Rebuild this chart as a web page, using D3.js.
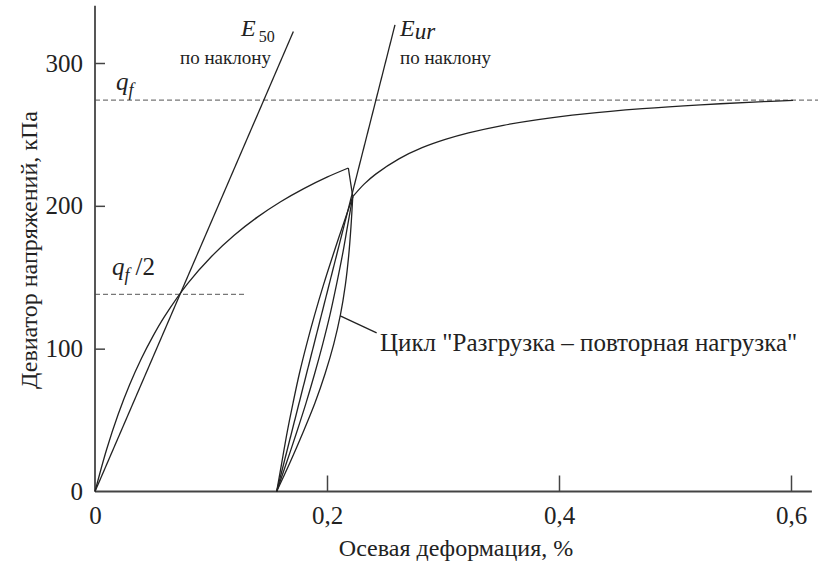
<!DOCTYPE html>
<html><head><meta charset="utf-8">
<script src="https://cdn.jsdelivr.net/npm/d3@7"></script>
</head><body style="margin:0;background:#fff">
<svg id="c" width="818" height="564" font-family="Liberation Serif" style="display:block"></svg>
<script>
// ---- data ----
const xTicks = [0, 0.2, 0.4, 0.6];
const yTicks = [0, 100, 200, 300];
const qf = 274;
const qfHalf = 138;
// primary loading curve
const primaryStrain = [0, 0.01, 0.02, 0.03, 0.04, 0.05, 0.06, 0.08, 0.10, 0.12, 0.14, 0.16, 0.18, 0.20, 0.2184];
const primaryStress = [0, 29.4, 54.1, 75.1, 93.1, 108.8, 122.6, 145.7, 164.2, 179.4, 192.1, 202.9, 212.1, 220.1, 226.5];
// drop from peak to cycle top
const dropStrain = [0.2184, 0.2222];
const dropStress = [226.5, 206.4];
// continued loading after the cycle
const contStrain = [0.2222, 0.232, 0.242, 0.262, 0.282, 0.302, 0.322, 0.352, 0.382, 0.422, 0.472, 0.522, 0.572, 0.6017];
const contStress = [206.4, 215.2, 222.2, 232.9, 240.7, 246.5, 251.1, 256.4, 260.4, 264.4, 268.0, 270.7, 272.8, 273.8];
// unloading / reloading cycle branches
const loopStress = [0, 20.6, 41.3, 61.9, 82.6, 103.2, 123.8, 144.5, 165.1, 185.8, 206.4];
const loopLeftStrain = [0.1566, 0.1611, 0.1656, 0.1707, 0.1762, 0.1825, 0.1894, 0.1969, 0.2050, 0.2135, 0.2222];
const loopInnerStrain = [0.1566, 0.1653, 0.1738, 0.1819, 0.1894, 0.1963, 0.2026, 0.2081, 0.2132, 0.2177, 0.2222];
const loopOuterStrain = [0.1566, 0.1683, 0.1793, 0.1896, 0.1984, 0.2058, 0.2116, 0.2158, 0.2187, 0.2207, 0.2222];
// tangent lines
const e50Strain = [0, 0.171];
const e50Stress = [0, 322];
const eurStrain = [0.1566, 0.2586];
const eurStress = [0, 326.7];
// leader line of the cycle annotation
const leaderStrain = [0.2114, 0.2428];
const leaderStress = [123, 111];

// ---- chart ----
const FONT = "Liberation Serif";
const svg = d3.select("#c");
const x = d3.scaleLinear().domain([0, 0.6]).range([95, 791]);
const y = d3.scaleLinear().domain([0, 300]).range([491.5, 63]);
const xEnd = 0.618, yEnd = 340;
const fmt = d => d === 0 ? "0" : d3.format(".1f")(d).replace(".", ",");
const zip = (a, b) => a.map((v, i) => [v, b[i]]);
const line = d3.line().x(d => x(d[0])).y(d => y(d[1]));
const smooth = d3.line().x(d => x(d[0])).y(d => y(d[1])).curve(d3.curveCatmullRom.alpha(0.5));

// dashed lines
svg.append("line").attr("x1", x(0)).attr("x2", 818).attr("y1", y(qf)).attr("y2", y(qf))
  .attr("stroke", "#777").attr("stroke-width", 1.3).attr("stroke-dasharray", "5,3");
svg.append("line").attr("x1", x(0)).attr("x2", x(0.131)).attr("y1", y(qfHalf)).attr("y2", y(qfHalf))
  .attr("stroke", "#777").attr("stroke-width", 1.3).attr("stroke-dasharray", "5,3");

// axes
const ax = svg.append("g").attr("transform", `translate(0,${y(0)})`)
  .call(d3.axisBottom(x).tickValues(xTicks).tickSize(-16).tickPadding(27).tickFormat(fmt));
const ay = svg.append("g").attr("transform", `translate(${x(0)},0)`)
  .call(d3.axisLeft(y).tickValues(yTicks).tickSize(-10).tickPadding(12).tickFormat(d => d));
[ax, ay].forEach(g => {
  g.attr("font-family", FONT).attr("font-size", 25);
  g.select(".domain").remove();
  g.selectAll(".tick line").attr("stroke", "#444").attr("stroke-width", 1.5);
  g.selectAll(".tick text").attr("font-family", FONT).attr("font-size", 25).attr("fill", "#222");
});
ax.selectAll(".tick line").filter(d => d === 0).remove();
ay.selectAll(".tick line").filter(d => d === 0).remove();
ax.selectAll(".tick text").attr("dy", "0.2em");
svg.append("line").attr("x1", x(0)).attr("x2", x(xEnd)).attr("y1", y(0)).attr("y2", y(0)).attr("stroke", "#444").attr("stroke-width", 1.8);
svg.append("line").attr("x1", x(0)).attr("x2", x(0)).attr("y1", y(0)).attr("y2", y(yEnd)).attr("stroke", "#444").attr("stroke-width", 1.8);

// curves
const curveStyle = s => s.attr("fill", "none").attr("stroke", "#222").attr("stroke-width", 1.3);
svg.append("path").datum(zip(primaryStrain, primaryStress)).attr("d", smooth).call(curveStyle);
svg.append("path").datum(zip(dropStrain, dropStress)).attr("d", line).call(curveStyle);
svg.append("path").datum(zip(contStrain, contStress)).attr("d", smooth).call(curveStyle);
[loopLeftStrain, loopInnerStrain, loopOuterStrain].forEach(s =>
  svg.append("path").datum(zip(s, loopStress)).attr("d", smooth).call(curveStyle));
svg.append("path").datum(zip(e50Strain, e50Stress)).attr("d", line).call(curveStyle);
svg.append("path").datum(zip(eurStrain, eurStress)).attr("d", line).call(curveStyle);
svg.append("path").datum(zip(leaderStrain, leaderStress)).attr("d", line).call(curveStyle);

// labels
const t = (xx, yy, size) => svg.append("text").attr("x", xx).attr("y", yy).attr("font-size", size)
  .attr("font-family", FONT).attr("fill", "#222");
let e50 = t(241, 36, 24);
e50.append("tspan").attr("font-style", "italic").text("E");
e50.append("tspan").attr("font-size", 16).attr("dy", 6).attr("dx", 3).text("50");
t(180, 64, 19).text("по наклону");
let eur = t(400, 36, 24);
eur.append("tspan").attr("font-style", "italic").text("E");
eur.append("tspan").attr("font-style", "italic").attr("font-size", 23).attr("dy", 3).text("ur");
t(400, 64, 19).text("по наклону");
let q1 = t(116, 90, 25);
q1.append("tspan").attr("font-style", "italic").text("q");
q1.append("tspan").attr("font-style", "italic").attr("font-size", 18).attr("dy", 6).text("f");
let q2 = t(112, 275, 25);
q2.append("tspan").attr("font-style", "italic").text("q");
q2.append("tspan").attr("font-style", "italic").attr("font-size", 18).attr("dy", 6).text("f");
q2.append("tspan").attr("dy", -6).attr("dx", 6).text("/2");
t(380, 351, 25).text("Цикл \"Разгрузка – повторная нагрузка\"");
t(456, 556, 24).attr("text-anchor", "middle").text("Осевая деформация, %");
svg.append("text").attr("transform", "translate(37,250) rotate(-90)").attr("text-anchor", "middle")
  .attr("font-family", FONT).attr("fill", "#222")
  .attr("font-size", 24).text("Девиатор напряжений, кПа");
</script>
</body></html>
